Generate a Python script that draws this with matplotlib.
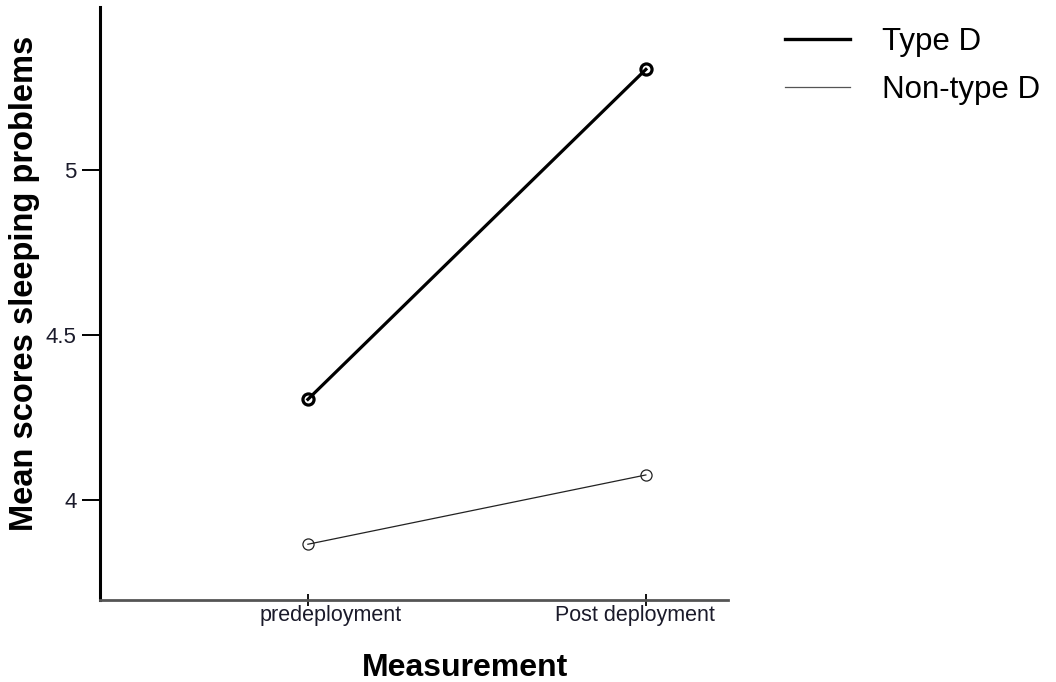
import matplotlib.pyplot as plt
from matplotlib.lines import Line2D

measurements = ['predeployment', 'Post deployment']
type_d = [4.305, 5.305]
non_type_d = [3.866, 4.076]
y_ticks = [4, 4.5, 5]
y_tick_labels = ['4', '4.5', '5']

plt.rcParams['font.family'] = ['Liberation Sans', 'DejaVu Sans']

fig = plt.figure(figsize=(10.56, 6.82), dpi=100)
ax = fig.add_axes([0.0947, 0.1202, 0.5947, 0.8695])

xs = list(range(len(measurements)))
ax.plot(xs, type_d, color='black', linewidth=2.3, marker='o', markersize=8,
        markerfacecolor='none', markeredgewidth=2.3)
ax.plot(xs, non_type_d, color='#222222', linewidth=0.9, marker='o', markersize=8,
        markerfacecolor='none', markeredgewidth=0.9)

ax.set_xlim(-0.615, 1.243)
ax.set_ylim(3.697, 5.494)

ax.set_yticks(y_ticks)
ax.set_yticklabels(y_tick_labels, fontsize=16, color='#1a1a2a')
ax.set_xticks(xs)
ax.set_xticklabels([])

# category labels sit a bit off-centre from their ticks in the original
for x, name, dx in zip(xs, measurements, [16.5, -8]):
    ax.annotate(name, xy=(x, 0), xycoords=('data', 'axes fraction'),
                xytext=(dx, -3.5), textcoords='offset points',
                ha='center', va='top', fontsize=15.5, color='#1a1a2a')

for s in ['top', 'right']:
    ax.spines[s].set_visible(False)
ax.spines['left'].set_linewidth(2.2)
ax.spines['bottom'].set_linewidth(2)
ax.spines['bottom'].set_color('#555555')

ax.tick_params(axis='y', direction='out', length=13, width=1.4, pad=4)
ax.tick_params(axis='x', direction='inout', length=8, width=1.3, pad=0)

fig.text(25 / 1056, 1 - 283 / 682, 'Mean scores sleeping problems', rotation=90,
         fontsize=23.5, fontweight='bold', ha='center', va='center')
fig.text(465 / 1056, 1 - 653 / 682, 'Measurement', fontsize=23, fontweight='bold',
         ha='center', va='top')

handles = [Line2D([], [], color='black', linewidth=2.4),
           Line2D([], [], color='#555555', linewidth=0.9)]
fig.legend(handles, ['Type D', 'Non-type D'], loc='upper left',
           bbox_to_anchor=(757 / 1056, 1 + 1 / 682),
           frameon=False, fontsize=22.5, handlelength=2.08, handletextpad=1.02,
           labelspacing=0.57)

fig.savefig('out.png', dpi=100)
